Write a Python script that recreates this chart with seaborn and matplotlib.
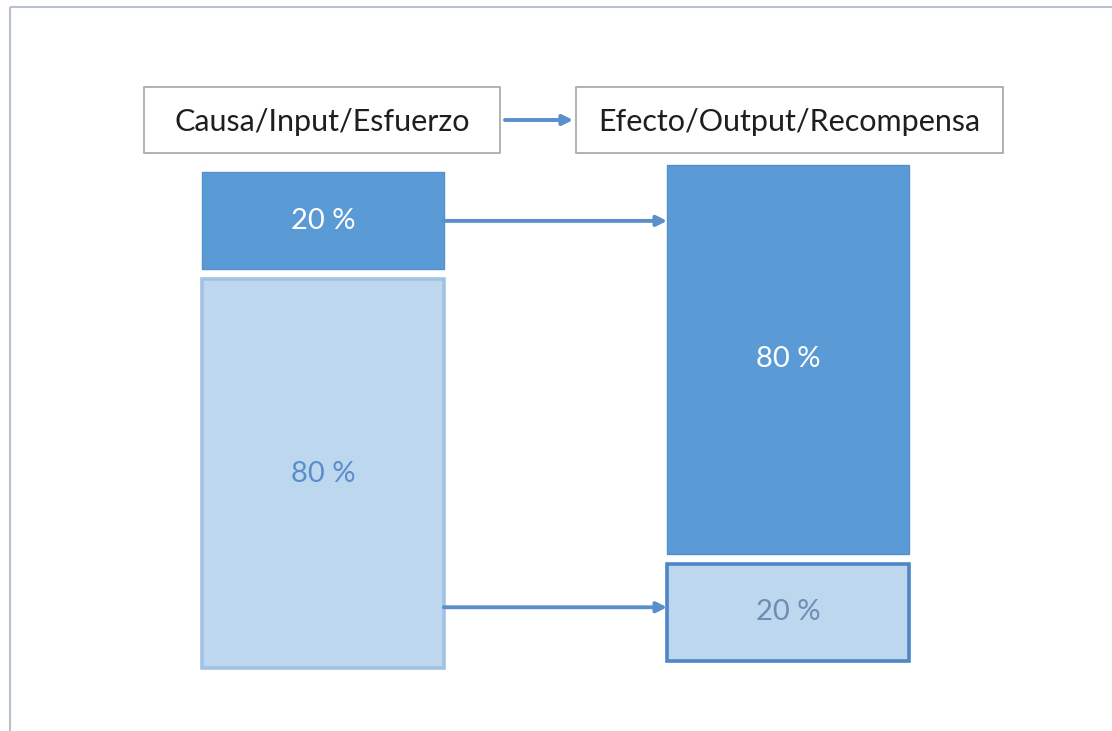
import numpy as np
import pandas as pd
import matplotlib
matplotlib.use('Agg')
import matplotlib.pyplot as plt
import seaborn as sns
from matplotlib.patches import Rectangle

# data: left column = causes, right column = effects
lados = ['Causa/Input/Esfuerzo', 'Efecto/Output/Recompensa']
pct_superior = [20, 80]   # dark block on top of each column
pct_inferior = [80, 20]   # light block below
etiq_superior = ['20 %', '80 %']
etiq_inferior = ['80 %', '20 %']

DARK = '#5B9BD5'
LIGHT = '#BDD7EE'
ARROW = '#5A8FCB'

W, H = 1112, 731

sns.set_theme(style='white')
plt.rcParams['font.family'] = ['Lato', 'DejaVu Sans']

fig = plt.figure(figsize=(W / 100, H / 100), dpi=100)
fig.patch.set_facecolor('white')

# bars axes: x in category units, y in percent (inverted)
ax = fig.add_axes([0, 0, 1, 1])
ax.patch.set_alpha(0)

offset = [1.5, 0.0]   # where each column starts
gap = 2.0
bar_w = 0.52

df_top = pd.DataFrame({'lado': lados, 'pct': pct_superior,
                       'base': offset})
df_bot = pd.DataFrame({'lado': lados, 'pct': pct_inferior,
                       'base': [o + p + gap for o, p in zip(offset, pct_superior)]})

sns.barplot(data=df_top, x='lado', y='pct', color=DARK, width=bar_w,
            errorbar=None, bottom=df_top['base'].values, ax=ax,
            saturation=1, edgecolor='#5290CF', linewidth=1)
sns.barplot(data=df_bot, x='lado', y='pct', color=LIGHT, width=bar_w,
            errorbar=None, bottom=df_bot['base'].values, ax=ax,
            saturation=1, linewidth=2.6)

# edge of the light blocks differs per column
for patch, ec in zip(ax.containers[1], ['#A2C2E4', '#4E86C6']):
    patch.set_edgecolor(ec)

# map to pixel layout: centres at 323 / 788 px, top at 165 px
px_x0, px_dx = 323, 465
ax.set_xlim(-px_x0 / px_dx, (W - px_x0) / px_dx)
s = 4.86
ax.set_ylim((H - 165) / s, -165 / s)
ax.set_axis_off()

# labels in the blocks
ax.bar_label(ax.containers[0], labels=etiq_superior, label_type='center',
             color='white', fontsize=21)
txts = ax.bar_label(ax.containers[1], labels=etiq_inferior, label_type='center',
                    fontsize=21)
for t, c in zip(txts, ['#5B8DCC', '#6E8DB6']):
    t.set_color(c)

# arrows between the 20 % blocks and their counterpart
arr = dict(arrowstyle='-|>', color=ARROW, lw=2.8, mutation_scale=15,
           shrinkA=0, shrinkB=0)
y_a = offset[0] + pct_superior[0] / 2
y_b = df_bot['base'][1] + pct_inferior[1] / 2 - 1
ax.annotate('', xy=(1 - bar_w / 2, y_a), xytext=(bar_w / 2, y_a), arrowprops=arr)
ax.annotate('', xy=(1 - bar_w / 2, y_b), xytext=(bar_w / 2, y_b), arrowprops=arr)

# overlay in pixel coords for frame and headers
ov = fig.add_axes([0, 0, 1, 1])
ov.patch.set_alpha(0)
ov.set_xlim(0, W)
ov.set_ylim(H, 0)
ov.set_axis_off()
ov.add_patch(Rectangle((10, 7), W + 20, H + 20, fill=False,
                       ec='#B8C0CC', lw=1.5))
ov.add_patch(Rectangle((144, 87), 356, 66, fc='white', ec='#A6A6A6', lw=1.2))
ov.add_patch(Rectangle((576, 87), 427, 66, fc='white', ec='#A6A6A6', lw=1.2))
ov.text(322, 122, lados[0], ha='center', va='center', fontsize=22, color='#1e1e1e')
ov.text(789.5, 122, lados[1], ha='center', va='center', fontsize=22, color='#1e1e1e')
ov.annotate('', xy=(573, 120), xytext=(505, 120), arrowprops=arr)

fig.savefig('out.png', dpi=100)
